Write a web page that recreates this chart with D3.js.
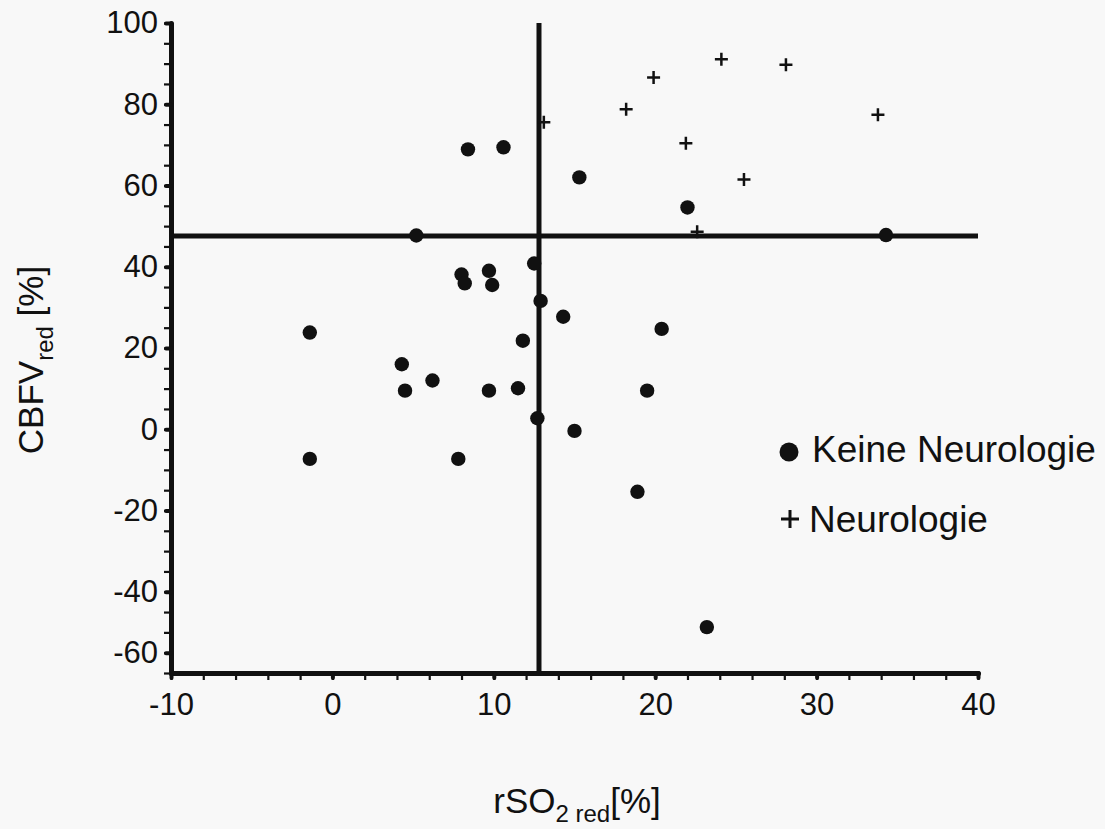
<!DOCTYPE html>
<html>
<head>
<meta charset="utf-8">
<script src="https://cdn.jsdelivr.net/npm/d3@7"></script>
<style>
  html, body { margin: 0; padding: 0; background: #f8f8f8; }
  svg { display: block; }
  text { font-family: "Liberation Sans", Arial, sans-serif; fill: #111; white-space: pre; }
</style>
</head>
<body>
<svg id="chart" width="1105" height="829"></svg>
<script>
// ---- data ----
const keineX = [8.4, 10.6, 15.3, 5.2, 22.0, 34.3, 12.5, 8.0, 8.2, 9.7, 9.9, 12.9, 14.3, -1.4, 11.8, 4.3, 6.2, 4.5, 9.7, 11.5, 12.7, 15.0, -1.4, 7.8, 20.4, 19.5, 18.9, 23.2];
const keineY = [68.9, 69.4, 62.0, 47.7, 54.6, 47.8, 40.8, 38.1, 35.9, 39.0, 35.5, 31.6, 27.7, 23.8, 21.8, 16.0, 12.0, 9.5, 9.5, 10.1, 2.7, -0.4, -7.3, -7.3, 24.7, 9.5, -15.4, -48.7];
const neuroX = [13.1, 18.2, 19.9, 24.1, 28.1, 33.8, 21.9, 25.5, 22.6];
const neuroY = [75.6, 78.8, 86.6, 91.1, 89.7, 77.4, 70.4, 61.5, 48.6];
const refX = 12.8;   // vertical threshold line
const refY = 47.6;   // horizontal threshold line
const xTickValues = [-10, 0, 10, 20, 30, 40];
const xTickText = ["-10", "0", "10", "20", "30", "40"];
const yTickValues = [-55, -40, -20, 0, 20, 40, 60, 80, 100];
const yTickText = ["-60", "-40", "-20", "0", "20", "40", "60", "80", "100"];
const legendLabels = ["Keine Neurologie", "Neurologie"];

// ---- layout ----
const svg = d3.select("#chart");
const x = d3.scaleLinear().domain([-10, 40]).range([171, 978]);
const y = d3.scaleLinear().domain([-60, 100]).range([673, 23]);

// minor ticks
const xMinor = d3.range(-10, 40.01, 2);
const yMinor = d3.range(-60, 100.01, 5);

svg.append("g").attr("transform", `translate(0,${y(-60)})`)
  .call(d3.axisBottom(x).tickValues(xMinor).tickSize(7).tickSizeOuter(0).tickFormat(""))
  .call(g => g.select(".domain").remove())
  .call(g => g.selectAll("line").attr("stroke", "#111").attr("stroke-width", 2.2));

svg.append("g").attr("transform", `translate(${x(-10)},0)`)
  .call(d3.axisLeft(y).tickValues(yMinor).tickSize(7).tickSizeOuter(0).tickFormat(""))
  .call(g => g.select(".domain").remove())
  .call(g => g.selectAll("line").attr("stroke", "#111").attr("stroke-width", 2.2));

// major axes
const xAxis = svg.append("g").attr("transform", `translate(0,${y(-60)})`)
  .call(d3.axisBottom(x).tickValues(xTickValues).tickSize(5).tickSizeOuter(0).tickPadding(15)
    .tickFormat((d, i) => xTickText[i]));
const yAxis = svg.append("g").attr("transform", `translate(${x(-10)},0)`)
  .call(d3.axisLeft(y).tickValues(yTickValues).tickSize(5).tickSizeOuter(0).tickPadding(8)
    .tickFormat((d, i) => yTickText[i]));

[xAxis, yAxis].forEach(g => {
  g.select(".domain").attr("stroke", "#111").attr("stroke-width", 5).attr("stroke-linecap", "round");
  g.selectAll(".tick line").attr("stroke", "#111").attr("stroke-width", 4).attr("stroke-linecap", "round");
  g.selectAll(".tick text").attr("fill", "#111").style("font-size", "31px")
    .style("font-family", "'Liberation Sans', Arial, sans-serif");
});

// reference lines
svg.append("line")
  .attr("x1", x(refX)).attr("x2", x(refX))
  .attr("y1", y(100)).attr("y2", y(-60))
  .attr("stroke", "#111").attr("stroke-width", 5);
svg.append("line")
  .attr("x1", x(-10)).attr("x2", x(40))
  .attr("y1", y(refY)).attr("y2", y(refY))
  .attr("stroke", "#111").attr("stroke-width", 5);

// points: Keine Neurologie
svg.append("g").selectAll("circle")
  .data(keineX.map((v, i) => [v, keineY[i]]))
  .join("circle")
  .attr("cx", d => x(d[0])).attr("cy", d => y(d[1]))
  .attr("r", 7.2).attr("fill", "#111");

// points: Neurologie (+)
const plus = (cx, cy, h) => `M${cx - h},${cy}H${cx + h}M${cx},${cy - h}V${cy + h}`;
svg.append("g").selectAll("path")
  .data(neuroX.map((v, i) => [v, neuroY[i]]))
  .join("path")
  .attr("d", d => plus(x(d[0]), y(d[1]), 6.5))
  .attr("stroke", "#111").attr("stroke-width", 2.5).attr("fill", "none");

// legend
const leg = svg.append("g");
leg.append("circle").attr("cx", 789).attr("cy", 452).attr("r", 9.5).attr("fill", "#111");
leg.append("text").attr("x", 812).attr("y", 462).style("font-size", "37px").text(legendLabels[0]);
leg.append("path").attr("d", plus(790, 519, 9)).attr("stroke", "#111").attr("stroke-width", 3);
leg.append("text").attr("x", 809).attr("y", 532).style("font-size", "37px").text(legendLabels[1]);

// axis titles
const xt = svg.append("text").attr("x", 577).attr("y", 813)
  .attr("text-anchor", "middle").style("font-size", "35px");
xt.append("tspan").text("rSO");
xt.append("tspan").attr("dy", 9).style("font-size", "24px").text("2 red");
xt.append("tspan").attr("dy", -9).text("[%]");

const yt = svg.append("text").attr("transform", "translate(43,360) rotate(-90)")
  .attr("text-anchor", "middle").style("font-size", "35px");
yt.append("tspan").text("CBFV");
yt.append("tspan").attr("dy", 10).style("font-size", "24px").text("red");
yt.append("tspan").attr("dy", -10).text(" [%]");
</script>
</body>
</html>
